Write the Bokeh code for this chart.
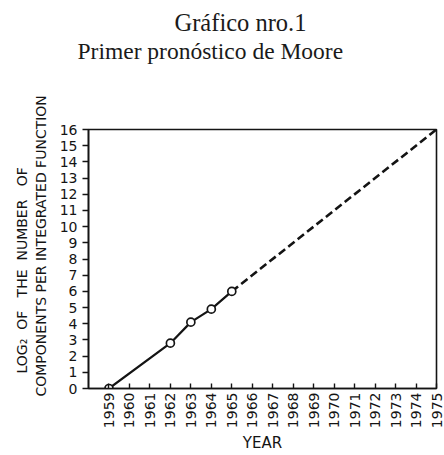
import math
from bokeh.plotting import figure
from bokeh.models import Range1d, FixedTicker, Title
from bokeh.embed import file_html
from bokeh.resources import INLINE

# ---- data ----
title_lines = ["Gráfico nro.1", "Primer pronóstico de Moore"]
y_label_lines = ["LOG\u2082\u00a0 OF\u00a0\u00a0 THE\u00a0 NUMBER\u00a0\u00a0 OF",
                 "COMPONENTS PER INTEGRATED FUNCTION"]
x_label = "YEAR"
measured_years = [1959, 1962, 1963, 1964, 1965]
measured_log2 = [0.0, 2.8, 4.1, 4.9, 6.0]
projected_years = [1965, 1975]
projected_log2 = [6.0, 16.0]
x_ticks = list(range(1959, 1976))
y_ticks = list(range(0, 17))

INK = "#141414"

p = figure(width=444, height=455, output_backend="svg", toolbar_location=None,
           title=None,
           x_range=Range1d(1958, 1975), y_range=Range1d(0, 16),
           min_border_left=88, min_border_right=8, min_border_top=129,
           min_border_bottom=60)

p.background_fill_color = "white"
p.border_fill_color = "white"
p.outline_line_color = INK
p.outline_line_width = 1.6
p.grid.visible = False

for ax in (p.xaxis, p.yaxis):
    ax.axis_line_color = INK
    ax.axis_line_width = 1.6
    ax.major_tick_line_color = INK
    ax.major_tick_line_width = 1.4
    ax.minor_tick_line_color = None
    ax.major_label_text_color = INK
    ax.major_label_text_font = "DejaVu Sans"

p.xaxis.ticker = FixedTicker(ticks=x_ticks)
p.xaxis.major_label_orientation = math.pi / 2
p.xaxis.major_tick_in = 5
p.xaxis.major_tick_out = 0
p.xaxis.major_label_standoff = 4
p.xaxis.major_label_text_font_size = "14px"
p.xaxis.axis_label = x_label
p.xaxis.axis_label_text_font = "DejaVu Sans"
p.xaxis.axis_label_text_font_style = "normal"
p.xaxis.axis_label_text_font_size = "15px"
p.xaxis.axis_label_text_color = INK
p.xaxis.axis_label_standoff = 3

p.yaxis.ticker = FixedTicker(ticks=y_ticks)
p.yaxis.major_tick_in = 0
p.yaxis.major_tick_out = 6
p.yaxis.major_label_standoff = 5
p.yaxis.major_label_text_font_size = "14px"

# measured points (solid) and projection (dashed)
p.line(measured_years, measured_log2, line_color=INK, line_width=2.2)
p.line(projected_years, projected_log2, line_color=INK, line_width=2.6, line_dash="8 4")
p.scatter(measured_years, measured_log2, marker="circle", size=8,
          fill_color="white", line_color=INK, line_width=1.7)


def spacer(standoff):
    # blank layout spacer between side panels (white non-breaking space)
    return Title(text="\u00a0", text_font_size="1px", text_color="white",
                 standoff=standoff)


# y label: two rotated lines (panels are listed from the frame outward)
p.add_layout(spacer(5.3), "left")
p.add_layout(Title(text=y_label_lines[1], align="left", offset=-8, standoff=0,
                   text_font="DejaVu Sans", text_font_size="14px",
                   text_font_style="normal", text_color=INK), "left")
p.add_layout(Title(text=y_label_lines[0], align="left", offset=15, standoff=2,
                   text_font="DejaVu Sans", text_font_size="14px",
                   text_font_style="normal", text_color=INK), "left")

# chart title: two lines with their own positions
p.add_layout(spacer(62.5), "above")
p.add_layout(Title(text=title_lines[1], align="left", offset=-11, standoff=0,
                   text_font="Liberation Serif", text_font_size="23.5px",
                   text_font_style="normal", text_color="#1a1a1a"), "above")
p.add_layout(Title(text=title_lines[0], align="left", offset=86, standoff=0,
                   text_font="Liberation Serif", text_font_size="24.5px",
                   text_font_style="normal", text_color="#1a1a1a"), "above")

open("out.html", "w").write(file_html(p, INLINE))
